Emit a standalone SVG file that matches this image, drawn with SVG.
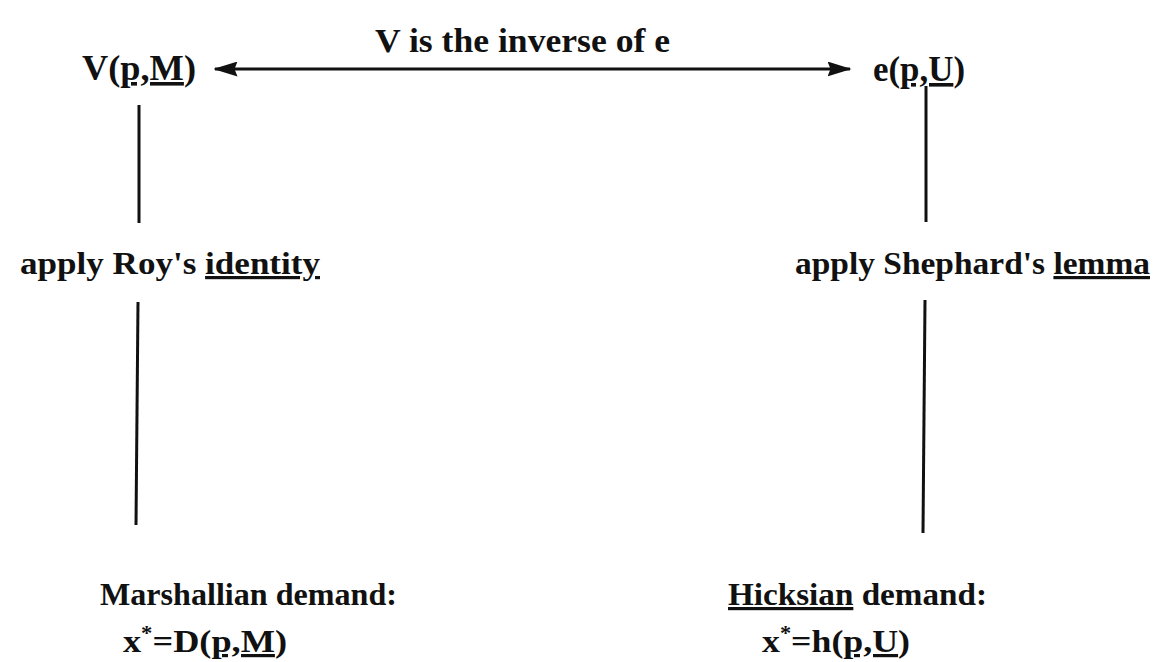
<svg xmlns="http://www.w3.org/2000/svg" width="1160" height="662" viewBox="0 0 1160 662">
<defs>
<style>
.t{font-family:"Liberation Serif","Times New Roman",serif;font-weight:bold;fill:#111;}
.u{text-decoration:underline;}
.ln{stroke:#111;stroke-width:3;fill:none;}
</style>
<marker id="ah" viewBox="0 0 16 10" refX="15" refY="5" markerWidth="8" markerHeight="5" markerUnits="strokeWidth" orient="auto-start-reverse">
<path d="M0,0 L16,5 L0,10 L2,5 z" fill="#111"/>
</marker>
</defs>
<rect width="1160" height="662" fill="#fff"/>
<g id="connectors">
<line class="ln" x1="215" y1="69" x2="850" y2="69" marker-start="url(#ah)" marker-end="url(#ah)"/>
<text class="t" x="375" y="52" font-size="34" textLength="295" lengthAdjust="spacingAndGlyphs">V is the inverse of e</text>
<line class="ln" x1="139" y1="105" x2="139" y2="223"/>
<line class="ln" x1="138" y1="302" x2="136" y2="525"/>
<line class="ln" x1="926" y1="86" x2="926" y2="222"/>
<line class="ln" x1="925" y1="300" x2="923" y2="533"/>
</g>
<g id="node-V">
<text class="t" x="82" y="80" font-size="36" textLength="114" lengthAdjust="spacingAndGlyphs">V(<tspan class="u">p,M</tspan>)</text>
</g>
<g id="node-e">
<text class="t" x="873" y="81" font-size="36" textLength="92" lengthAdjust="spacingAndGlyphs">e(<tspan class="u">p,U</tspan>)</text>
</g>
<g id="node-roy">
<text class="t" x="20" y="274" font-size="32" textLength="300" lengthAdjust="spacingAndGlyphs">apply Roy's <tspan class="u">identity</tspan></text>
</g>
<g id="node-shephard">
<text class="t" x="795" y="274" font-size="32" textLength="355" lengthAdjust="spacingAndGlyphs">apply Shephard's <tspan class="u">lemma</tspan></text>
</g>
<g id="node-marshallian">
<text class="t" x="100" y="605" font-size="32" textLength="297" lengthAdjust="spacingAndGlyphs">Marshallian demand:</text>
<text class="t" x="123" y="652" font-size="32" textLength="164" lengthAdjust="spacingAndGlyphs">x<tspan dy="-12" font-size="20">*</tspan><tspan dy="12">=D(</tspan><tspan class="u">p,M</tspan>)</text>
</g>
<g id="node-hicksian">
<text class="t" x="728" y="605" font-size="32" textLength="259" lengthAdjust="spacingAndGlyphs"><tspan class="u">Hicksian</tspan> demand:</text>
<text class="t" x="762" y="652" font-size="32" textLength="148" lengthAdjust="spacingAndGlyphs">x<tspan dy="-12" font-size="20">*</tspan><tspan dy="12">=h(</tspan><tspan class="u">p,U</tspan>)</text>
</g>
</svg>
